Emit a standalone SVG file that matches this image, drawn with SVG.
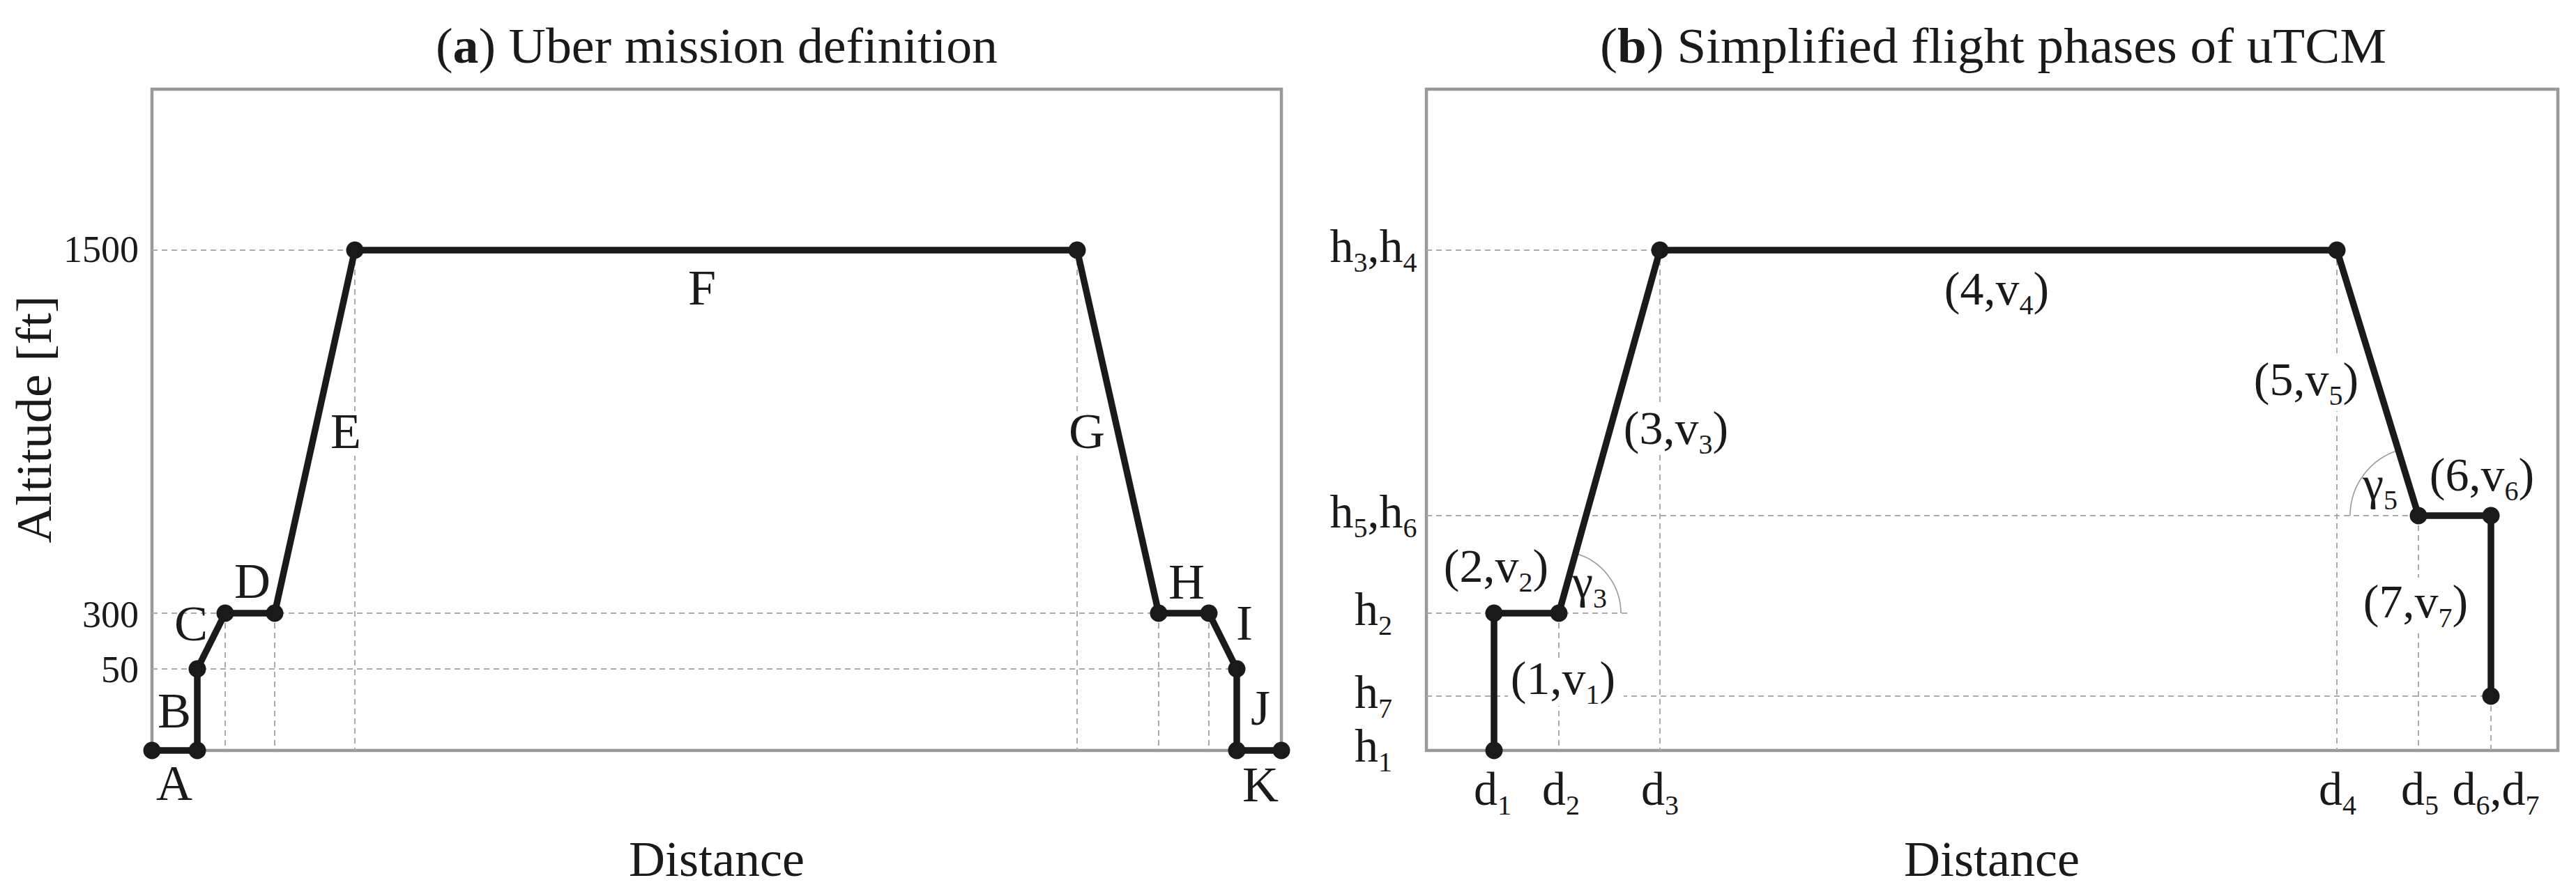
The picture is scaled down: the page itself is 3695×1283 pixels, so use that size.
<svg xmlns="http://www.w3.org/2000/svg" width="3695" height="1283" viewBox="0 0 3695 1283">
<style>
.frame{fill:none;stroke:#999;stroke-width:4.5}
.grid{fill:none;stroke:#aaa;stroke-width:2;stroke-dasharray:8 6}
.path{fill:none;stroke:#1a1a1a;stroke-width:9.5;stroke-linejoin:round}
.dot{fill:#1a1a1a}
.arc{fill:none;stroke:#999;stroke-width:1.6}
.bg{fill:#fff}
text{font-family:"Liberation Serif","Times New Roman",serif;fill:#1a1a1a}
.t{font-size:72px}
.tick{font-size:54px}
.lb{font-size:68px}
.sb{font-size:40px}
</style>
<rect width="3695" height="1283" fill="#fff"/>

<!-- Panel a -->
<g id="panel-a">
  <text class="t" x="1028" y="90" text-anchor="middle" textLength="806" lengthAdjust="spacingAndGlyphs">(<tspan font-weight="bold">a</tspan>) Uber mission definition</text>
  <rect id="frame-a" class="frame" x="218" y="128" width="1620" height="949"/>
  <g id="grid-a">
    <path class="grid" d="M218 359H509M218 880H1662M218 960H1774M323 880V1077M394 880V1077M509 359V1077M1545 359V1077M1662 880V1077M1734 880V1077"/>
  </g>
  <g id="ticks-a">
    <text class="tick" x="199" y="376" text-anchor="end">1500</text>
    <text class="tick" x="199" y="900" text-anchor="end">300</text>
    <text class="tick" x="199" y="979" text-anchor="end">50</text>
  </g>
  <text class="t" transform="translate(73 602) rotate(-90)" text-anchor="middle" textLength="355" lengthAdjust="spacingAndGlyphs">Altitude [ft]</text>
  <text class="t" x="1028" y="1257" text-anchor="middle">Distance</text>
  <g id="connectors-a">
    <polyline class="path" points="218,1077 283,1077 283,960 323,880 394,880 509,359 1545,359 1662,880 1734,880 1774,960 1774,1077 1838,1077"/>
  </g>
  <g id="points-a">
    <circle class="dot" cx="218" cy="1077" r="12.5"/>
    <circle class="dot" cx="283" cy="1077" r="12.5"/>
    <circle class="dot" cx="283" cy="960" r="12.5"/>
    <circle class="dot" cx="323" cy="880" r="12.5"/>
    <circle class="dot" cx="394" cy="880" r="12.5"/>
    <circle class="dot" cx="509" cy="359" r="12.5"/>
    <circle class="dot" cx="1545" cy="359" r="12.5"/>
    <circle class="dot" cx="1662" cy="880" r="12.5"/>
    <circle class="dot" cx="1734" cy="880" r="12.5"/>
    <circle class="dot" cx="1774" cy="960" r="12.5"/>
    <circle class="dot" cx="1774" cy="1077" r="12.5"/>
    <circle class="dot" cx="1838" cy="1077" r="12.5"/>
  </g>
  <g id="segment-labels-a">
    <text class="t" x="250" y="1148" text-anchor="middle">A</text>
    <text class="t" x="250" y="1044" text-anchor="middle">B</text>
    <text class="t" x="274" y="919" text-anchor="middle">C</text>
    <text class="t" x="362" y="858" text-anchor="middle">D</text>
    <g id="label-E"><rect class="bg" x="470" y="590" width="52" height="64"/><text class="t" x="496" y="643" text-anchor="middle">E</text></g>
    <text class="t" x="1007" y="437" text-anchor="middle">F</text>
    <g id="label-G"><rect class="bg" x="1532" y="590" width="54" height="64"/><text class="t" x="1559" y="643" text-anchor="middle">G</text></g>
    <text class="t" x="1702" y="859" text-anchor="middle">H</text>
    <text class="t" x="1785" y="918" text-anchor="middle">I</text>
    <text class="t" x="1808" y="1040" text-anchor="middle">J</text>
    <text class="t" x="1808" y="1150" text-anchor="middle">K</text>
  </g>
</g>

<!-- Panel b -->
<g id="panel-b">
  <text class="t" x="2859" y="90" text-anchor="middle" textLength="1128" lengthAdjust="spacingAndGlyphs">(<tspan font-weight="bold">b</tspan>) Simplified flight phases of uTCM</text>
  <rect id="frame-b" class="frame" x="2046" y="128" width="1623" height="949"/>
  <g id="grid-b">
    <path class="grid" d="M2046 359H2381M2046 740H3469M2046 880H2340M2046 999H3573M2236 880V1077M2381 359V1077M3352 359V1077M3469 740V1077M3573 999V1077"/>
  </g>
  <g id="angle-arcs">
    <path class="arc" d="M2325 880A89 89 0 0 0 2259.9 794.3"/>
    <path class="arc" d="M3371 740A98 98 0 0 1 3440.2 646.3"/>
  </g>
  <g id="ticks-b">
    <text class="lb" x="1970" y="376" text-anchor="middle">h<tspan class="sb" dy="14">3</tspan><tspan dy="-14">,h</tspan><tspan class="sb" dy="14">4</tspan></text>
    <text class="lb" x="1970" y="757" text-anchor="middle">h<tspan class="sb" dy="14">5</tspan><tspan dy="-14">,h</tspan><tspan class="sb" dy="14">6</tspan></text>
    <text class="lb" x="1970" y="897" text-anchor="middle">h<tspan class="sb" dy="14">2</tspan></text>
    <text class="lb" x="1970" y="1016" text-anchor="middle">h<tspan class="sb" dy="14">7</tspan></text>
    <text class="lb" x="1970" y="1093" text-anchor="middle">h<tspan class="sb" dy="14">1</tspan></text>
    <text class="lb" x="2141" y="1155" text-anchor="middle">d<tspan class="sb" dy="14">1</tspan></text>
    <text class="lb" x="2239" y="1155" text-anchor="middle">d<tspan class="sb" dy="14">2</tspan></text>
    <text class="lb" x="2381" y="1155" text-anchor="middle">d<tspan class="sb" dy="14">3</tspan></text>
    <text class="lb" x="3353" y="1155" text-anchor="middle">d<tspan class="sb" dy="14">4</tspan></text>
    <text class="lb" x="3471" y="1155" text-anchor="middle">d<tspan class="sb" dy="14">5</tspan></text>
    <text class="lb" x="3580" y="1155" text-anchor="middle">d<tspan class="sb" dy="14">6</tspan><tspan dy="-14">,d</tspan><tspan class="sb" dy="14">7</tspan></text>
  </g>
  <text class="t" x="2857" y="1257" text-anchor="middle">Distance</text>
  <g id="connectors-b">
    <polyline class="path" points="2143,1077 2143,880 2236,880 2381,359 3352,359 3469,740 3573,740 3573,999"/>
  </g>
  <g id="points-b">
    <circle class="dot" cx="2143" cy="1077" r="12.5"/>
    <circle class="dot" cx="2143" cy="880" r="12.5"/>
    <circle class="dot" cx="2236" cy="880" r="12.5"/>
    <circle class="dot" cx="2381" cy="359" r="12.5"/>
    <circle class="dot" cx="3352" cy="359" r="12.5"/>
    <circle class="dot" cx="3469" cy="740" r="12.5"/>
    <circle class="dot" cx="3573" cy="740" r="12.5"/>
    <circle class="dot" cx="3573" cy="999" r="12.5"/>
  </g>
  <g id="phase-labels-b">
    <g id="label-1"><rect class="bg" x="2163" y="944" width="166" height="69"/><text class="lb" x="2242" y="996" text-anchor="middle">(1,v<tspan class="sb" dy="14">1</tspan><tspan dy="-14">)</tspan></text></g>
    <text class="lb" x="2146" y="835" text-anchor="middle">(2,v<tspan class="sb" dy="14">2</tspan><tspan dy="-14">)</tspan></text>
    <g id="label-3"><rect class="bg" x="2334" y="580" width="150" height="72"/><text class="lb" x="2404" y="637" text-anchor="middle">(3,v<tspan class="sb" dy="14">3</tspan><tspan dy="-14">)</tspan></text></g>
    <text class="lb" x="2864" y="437" text-anchor="middle">(4,v<tspan class="sb" dy="14">4</tspan><tspan dy="-14">)</tspan></text>
    <g id="label-5"><rect class="bg" x="3226" y="510" width="164" height="80"/><text class="lb" x="3308" y="567" text-anchor="middle">(5,v<tspan class="sb" dy="14">5</tspan><tspan dy="-14">)</tspan></text></g>
    <text class="lb" x="3560" y="704" text-anchor="middle">(6,v<tspan class="sb" dy="14">6</tspan><tspan dy="-14">)</tspan></text>
    <g id="label-7"><rect class="bg" x="3386" y="829" width="160" height="80"/><text class="lb" x="3465" y="886" text-anchor="middle">(7,v<tspan class="sb" dy="14">7</tspan><tspan dy="-14">)</tspan></text></g>
    <text class="lb" x="2255" y="858">γ<tspan class="sb" dy="14">3</tspan></text>
    <text class="lb" x="3389" y="717">γ<tspan class="sb" dy="14">5</tspan></text>
  </g>
</g>
</svg>
